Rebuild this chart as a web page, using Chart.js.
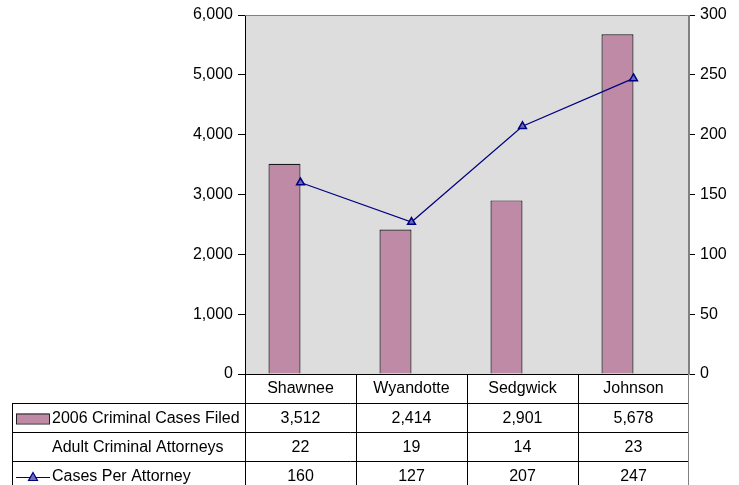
<!DOCTYPE html>
<html>
<head>
<meta charset="utf-8">
<script src="https://cdn.jsdelivr.net/npm/chart.js@4/dist/chart.umd.min.js"></script>
<style>
  body { margin: 0; background: #fff; }
  #wrap { width: 739px; height: 485px; }
</style>
</head>
<body>
<div id="wrap"><canvas id="chart" width="739" height="485"></canvas></div>
<script>
const categories = ['Shawnee', 'Wyandotte', 'Sedgwick', 'Johnson'];
const casesFiled = [3512, 2414, 2901, 5678];
const attorneys = [22, 19, 14, 23];
const casesPerAttorney = [160, 127, 207, 247];
const rowLabels = ['2006 Criminal Cases Filed', 'Adult Criminal Attorneys', 'Cases Per Attorney'];

const FONT = 'Liberation Sans, Arial, sans-serif';
const barColor = '#BE8AA6';
const lineColor = '#000080';
const markerFill = '#6E6EB8';

const fmt = v => v.toLocaleString('en-US');

// gray plot area + top border
const plotBg = {
  id: 'plotBg',
  beforeDraw(chart) {
    const { ctx, chartArea: a } = chart;
    ctx.save();
    ctx.fillStyle = '#DDDDDD';
    ctx.fillRect(a.left, a.top, a.right - a.left, a.bottom - a.top);
    ctx.restore();
  },
  afterDraw(chart) {
    const { ctx, chartArea: a } = chart;
    ctx.save();
    ctx.strokeStyle = '#808080';
    ctx.lineWidth = 1;
    ctx.beginPath();
    ctx.moveTo(a.left, a.top + 0.5);
    ctx.lineTo(a.right, a.top + 0.5);
    ctx.stroke();
    ctx.restore();
  }
};

// data table under the x axis
const dataTable = {
  id: 'dataTable',
  afterDraw(chart) {
    const { ctx, chartArea: a, scales: { x } } = chart;
    const rowH = 29;
    const top = a.bottom + rowH;
    const bottom = chart.height;
    const leftEdge = 12;
    const catW = (a.right - a.left) / categories.length;
    const rows = [casesFiled, attorneys, casesPerAttorney];

    ctx.save();
    ctx.lineWidth = 1;
    ctx.strokeStyle = '#000';
    ctx.beginPath();
    for (let i = 0; i < categories.length; i++) {
      const bx = Math.round(x.getPixelForValue(i) - catW / 2) + 0.5;
      ctx.moveTo(bx, a.bottom);
      ctx.lineTo(bx, bottom);
    }
    for (let r = 0; r < rows.length; r++) {
      const y = top + r * rowH + 0.5;
      ctx.moveTo(leftEdge, y);
      ctx.lineTo(a.right, y);
    }
    ctx.moveTo(leftEdge + 0.5, top);
    ctx.lineTo(leftEdge + 0.5, bottom);
    ctx.stroke();

    ctx.strokeStyle = '#808080';
    ctx.beginPath();
    ctx.moveTo(a.right - 0.5, a.top);
    ctx.lineTo(a.right - 0.5, bottom);
    ctx.stroke();

    ctx.font = '16px ' + FONT;
    ctx.fillStyle = '#000';
    ctx.textBaseline = 'middle';
    rows.forEach((vals, r) => {
      const cy = top + r * rowH + rowH / 2 + 1;
      ctx.textAlign = 'left';
      ctx.fillText(rowLabels[r], 52, cy);
      ctx.textAlign = 'center';
      vals.forEach((v, i) => ctx.fillText(fmt(v), x.getPixelForValue(i), cy));
    });

    // legend keys
    const k1 = top + rowH / 2 + 1;
    ctx.fillStyle = barColor;
    ctx.fillRect(16, k1 - 5, 33, 10);
    ctx.strokeStyle = '#222';
    ctx.strokeRect(16.5, k1 - 4.5, 33, 10);

    const k3 = top + 2 * rowH + rowH / 2 + 2;
    ctx.strokeStyle = lineColor;
    ctx.lineWidth = 1.2;
    ctx.beginPath();
    ctx.moveTo(16, k3);
    ctx.lineTo(50, k3);
    ctx.stroke();
    ctx.fillStyle = markerFill;
    ctx.beginPath();
    ctx.moveTo(33, k3 - 5);
    ctx.lineTo(37.5, k3 + 3);
    ctx.lineTo(28.5, k3 + 3);
    ctx.closePath();
    ctx.fill();
    ctx.stroke();
    ctx.restore();
  }
};

new Chart(document.getElementById('chart'), {
  data: {
    labels: categories,
    datasets: [
      {
        type: 'line',
        label: 'Cases Per Attorney',
        data: casesPerAttorney,
        yAxisID: 'y1',
        borderColor: lineColor,
        borderWidth: 1.2,
        pointStyle: 'triangle',
        pointRadius: 4.5,
        pointBackgroundColor: markerFill,
        pointBorderColor: lineColor,
        pointBorderWidth: 1.5,
        tension: 0,
        order: 0
      },
      {
        type: 'bar',
        label: '2006 Criminal Cases Filed',
        data: casesFiled,
        yAxisID: 'y',
        backgroundColor: barColor,
        borderColor: '#1a1a1a',
        borderWidth: 1.2,
        categoryPercentage: 0.577,
        barPercentage: 1,
        order: 1
      },
      {
        type: 'bar',
        label: 'Adult Criminal Attorneys',
        data: attorneys,
        yAxisID: 'y',
        backgroundColor: 'rgba(0,0,0,0)',
        borderWidth: 0,
        categoryPercentage: 0.577,
        barPercentage: 1,
        order: 2
      }
    ]
  },
  options: {
    responsive: false,
    animation: false,
    layout: { padding: { top: 15, left: 0, right: 0, bottom: 0 } },
    plugins: {
      legend: { display: false },
      tooltip: { enabled: false }
    },
    scales: {
      x: {
        offset: true,
        grid: { display: false, drawTicks: false },
        border: { display: true, color: '#000' },
        ticks: { color: '#000', font: { family: FONT, size: 16 }, padding: 5, maxRotation: 0 },
        afterFit: s => { s.height = 111; }
      },
      y: {
        position: 'left',
        min: 0,
        max: 6000,
        ticks: { stepSize: 1000, color: '#000', font: { family: FONT, size: 16 }, padding: 5, callback: v => fmt(v) },
        grid: { drawOnChartArea: false, tickLength: 7, color: '#000' },
        border: { color: '#000' },
        afterFit: s => { s.width = 245; }
      },
      y1: {
        position: 'right',
        min: 0,
        max: 300,
        ticks: { stepSize: 50, color: '#000', font: { family: FONT, size: 16 }, padding: 5 },
        grid: { drawOnChartArea: false, tickLength: 6, color: '#000' },
        border: { color: '#808080' },
        afterFit: s => { s.width = 50; }
      }
    }
  },
  plugins: [plotBg, dataTable]
});
</script>
</body>
</html>
